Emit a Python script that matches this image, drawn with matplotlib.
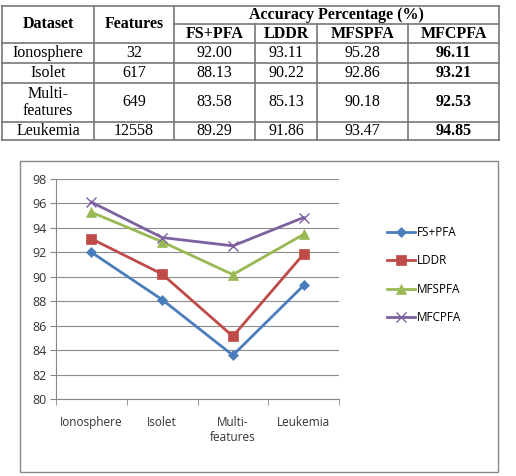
import matplotlib.pyplot as plt
from matplotlib.lines import Line2D

datasets = ['Ionosphere', 'Isolet', 'Multi-\nfeatures', 'Leukemia']
features = ['32', '617', '649', '12558']
methods = ['FS+PFA', 'LDDR', 'MFSPFA', 'MFCPFA']
fs_pfa = [92.00, 88.13, 83.58, 89.29]
lddr = [93.11, 90.22, 85.13, 91.86]
mfspfa = [95.28, 92.86, 90.18, 93.47]
mfcpfa = [96.11, 93.21, 92.53, 94.85]
yticks = [80, 82, 84, 86, 88, 90, 92, 94, 96, 98]

colors = ['#4A7EBB', '#BE4B48', '#98B954', '#7D60A0']
markers = ['D', 's', '^', 'x']
msizes = [5.5, 7.5, 6.5, 7.5]

W, H = 516, 476
fig = plt.figure(figsize=(W / 100, H / 100), dpi=100)

# ---- table (drawn in pixel coords) ----
tab = fig.add_axes([0, 0, 1, 1])
tab.set_xlim(0, W)
tab.set_ylim(H, 0)
tab.axis('off')

xs = [2, 94, 174, 255, 317, 408, 499]
ys = [6, 24, 43, 63, 83, 122, 140]
lc = '#777777'
lw = 1.2
for y in [ys[0], ys[-1]] + ys[2:-1]:
    tab.add_line(Line2D([xs[0], xs[-1]], [y, y], color=lc, lw=lw))
tab.add_line(Line2D([xs[2], xs[-1]], [ys[1], ys[1]], color=lc, lw=lw))
for x in [xs[0], xs[1], xs[2], xs[-1]]:
    tab.add_line(Line2D([x, x], [ys[0], ys[-1]], color=lc, lw=lw))
for x in xs[3:-1]:
    tab.add_line(Line2D([x, x], [ys[1], ys[-1]], color=lc, lw=lw))

serif = 'Liberation Serif'
fsz = 11.5
tab.text((xs[0] + xs[1]) / 2, (ys[0] + ys[2]) / 2, 'Dataset', ha='center', va='center',
         family=serif, weight='bold', fontsize=fsz)
tab.text((xs[1] + xs[2]) / 2, (ys[0] + ys[2]) / 2, 'Features', ha='center', va='center',
         family=serif, weight='bold', fontsize=fsz)
tab.text((xs[2] + xs[-1]) / 2, (ys[0] + ys[1]) / 2, 'Accuracy Percentage (%)', ha='center',
         va='center', family=serif, weight='bold', fontsize=fsz)
for j, m in enumerate(methods):
    tab.text((xs[2 + j] + xs[3 + j]) / 2, (ys[1] + ys[2]) / 2, m, ha='center', va='center',
             family=serif, weight='bold', fontsize=fsz)
series = [fs_pfa, lddr, mfspfa, mfcpfa]
for i in range(4):
    yc = (ys[2 + i] + ys[3 + i]) / 2
    tab.text((xs[0] + xs[1]) / 2, yc, datasets[i], ha='center', va='center',
             family=serif, fontsize=fsz, linespacing=1.05)
    tab.text((xs[1] + xs[2]) / 2, yc, features[i], ha='center', va='center',
             family=serif, fontsize=fsz)
    for j in range(4):
        tab.text((xs[2 + j] + xs[3 + j]) / 2, yc, '%.2f' % series[j][i], ha='center',
                 va='center', family=serif, fontsize=fsz,
                 weight='bold' if j == 3 else 'normal')

# chart area border
tab.add_patch(plt.Rectangle((20, 161), 478, 311, fill=False, ec='#888888', lw=1.0))

# ---- line chart ----
left, right, top, bottom = 56, 339, 179, 399
ax = fig.add_axes([left / W, 1 - bottom / H, (right - left) / W, (bottom - top) / H])
x = range(len(datasets))
for s, m, c, ms, lab in zip(series, markers, colors, msizes, methods):
    ax.plot(x, s, color=c, lw=2, marker=m, markersize=ms, label=lab,
            markeredgewidth=1.0 if m == 'x' else 0.5, markeredgecolor=c)

font = 'Open Sans'
tsz = 8.5
ax.set_xlim(-0.5, 3.5)
ax.set_ylim(80, 98)
ax.set_yticks(yticks)
ax.set_yticklabels([str(v) for v in yticks], family=font, fontsize=9, color='#333333')
ax.set_xticks(list(x))
ax.set_xticklabels(datasets, family=font, fontsize=tsz, color='#333333', linespacing=1.25)
ax.set_xticks([-0.5, 0.5, 1.5, 2.5, 3.5], minor=True)
ax.tick_params(axis='x', which='major', length=0, pad=12)
ax.tick_params(axis='x', which='minor', length=4, color='#888888')
ax.tick_params(axis='y', length=4, color='#888888', pad=3)
ax.grid(axis='y', color='#8c8c8c', lw=0.8)
ax.set_axisbelow(True)
for sp in ['top', 'right']:
    ax.spines[sp].set_visible(False)
for sp in ['left', 'bottom']:
    ax.spines[sp].set_color('#888888')

ax.legend(loc='center left', bbox_to_anchor=(376 / W, 1 - 275 / H),
          bbox_transform=fig.transFigure, frameon=False, prop={'family': font, 'size': tsz},
          labelspacing=1.3, handlelength=2.4, handletextpad=0.2)

fig.savefig('out.png', dpi=100)
